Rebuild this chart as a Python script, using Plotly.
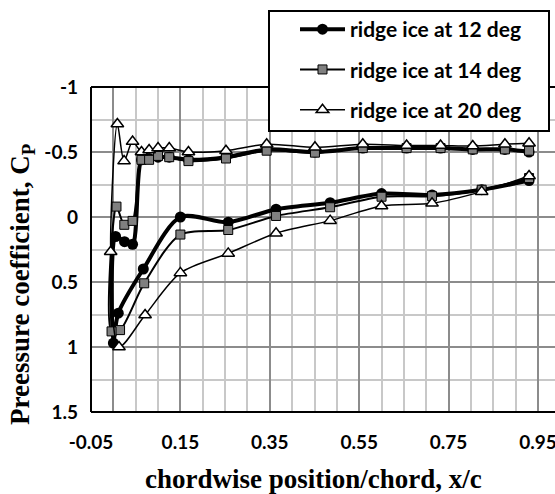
import plotly.graph_objects as go

# ---- data ----
x12 = [0.93, 0.824, 0.713, 0.60, 0.485, 0.364, 0.257, 0.15, 0.067, 0.011, 0.0,
       0.005, 0.025, 0.043, 0.063, 0.08, 0.10, 0.125, 0.168, 0.252, 0.343, 0.451,
       0.558, 0.656, 0.732, 0.804, 0.876, 0.93]
cp12 = [-0.28, -0.21, -0.17, -0.18, -0.11, -0.06, 0.04, 0.0, 0.40, 0.74, 0.97,
        0.15, 0.19, 0.21, -0.44, -0.45, -0.46, -0.46, -0.44, -0.46, -0.52, -0.50,
        -0.53, -0.53, -0.53, -0.52, -0.52, -0.50]

x14 = [0.93, 0.824, 0.713, 0.60, 0.485, 0.364, 0.257, 0.15, 0.069, 0.015, -0.004,
       0.007, 0.0245, 0.043, 0.063, 0.08, 0.10, 0.125, 0.168, 0.252, 0.343, 0.451,
       0.558, 0.656, 0.732, 0.804, 0.876, 0.93]
cp14 = [-0.30, -0.21, -0.16, -0.156, -0.075, -0.008, 0.10, 0.135, 0.51, 0.87, 0.88,
        -0.08, 0.06, 0.03, -0.44, -0.44, -0.47, -0.46, -0.43, -0.45, -0.51, -0.495,
        -0.53, -0.53, -0.53, -0.52, -0.52, -0.51]

x20 = [0.93, 0.824, 0.713, 0.60, 0.485, 0.364, 0.257, 0.15, 0.071, 0.0126, -0.006,
       0.009, 0.024, 0.043, 0.063, 0.08, 0.10, 0.125, 0.168, 0.252, 0.343, 0.451,
       0.558, 0.656, 0.732, 0.804, 0.876, 0.93]
cp20 = [-0.315, -0.195, -0.105, -0.085, 0.028, 0.125, 0.28, 0.43, 0.754, 1.0, 0.267,
        -0.715, -0.43, -0.58, -0.50, -0.515, -0.53, -0.53, -0.50, -0.51, -0.56, -0.536,
        -0.56, -0.55, -0.55, -0.546, -0.56, -0.567]

series_names = ["ridge ice at 12 deg", "ridge ice at 14 deg", "ridge ice at 20 deg"]

x_tick_vals = [-0.05, 0.15, 0.35, 0.55, 0.75, 0.95]
x_tick_text = ["-0.05", "0.15", "0.35", "0.55", "0.75", "0.95"]
y_tick_vals = [-1, -0.5, 0, 0.5, 1, 1.5]
y_tick_text = ["-1", "-0.5", "0", "0.5", "1", "1.5"]

x_title = "chordwise position/chord, x/c"
y_title = "Preessure coefficient, C<sub>P</sub>"

# ---- figure ----
W, H = 555, 494
ML, MR, MT, MB = 91, 0, 87, 82
PW, PH = W - ML - MR, H - MT - MB

def px_x(p):
    return (p - ML) / PW

def px_y(p):
    return (H - MB - p) / PH

MAJOR = "#8c8c8c"
MINOR = "#c8c8c8"
TICKFONT = dict(family="Lato", size=19, color="black", weight="bold")
TITLEFONT = dict(family="Liberation Serif", size=27, color="black", weight="bold")

fig = go.Figure()
fig.add_trace(go.Scatter(
    x=x12, y=cp12, mode="lines+markers", name=series_names[0], legendgroup="g1",
    line=dict(color="black", width=4, shape="spline", smoothing=0.8),
    marker=dict(symbol="circle", size=11, color="black")))
fig.add_trace(go.Scatter(
    x=x14, y=cp14, mode="lines+markers", name=series_names[1], legendgroup="g2",
    line=dict(color="black", width=2, shape="spline", smoothing=0.8),
    marker=dict(symbol="square", size=9, color="#808080", line=dict(color="black", width=1))))
fig.add_trace(go.Scatter(
    x=x20, y=cp20, mode="lines+markers", name=series_names[2], legendgroup="g3",
    line=dict(color="black", width=1.5, shape="spline", smoothing=0.8),
    marker=dict(symbol="triangle-up", size=11, color="white", line=dict(color="black", width=1.5))))

fig.update_layout(
    width=W, height=H,
    margin=dict(l=ML, r=MR, t=MT, b=MB, autoexpand=False),
    paper_bgcolor="white", plot_bgcolor="white",
    showlegend=True,
    legend=dict(x=px_x(295), y=px_y(9), xanchor="left", yanchor="top",
                bgcolor="rgba(0,0,0,0)", borderwidth=0, itemwidth=45,
                font=dict(family="Lato", size=21, color="black", weight="bold"),
                tracegroupgap=10, traceorder="grouped"),
    xaxis=dict(range=[-0.05, -0.05 + PW / 447.0], tickmode="array",
               tickvals=x_tick_vals, ticktext=x_tick_text,
               showgrid=True, gridcolor=MAJOR, gridwidth=2,
               minor=dict(tickmode="linear", tick0=-0.05, dtick=0.05, showgrid=True,
                          gridcolor=MINOR, gridwidth=1.5),
               zeroline=True, zerolinecolor=MAJOR, zerolinewidth=2,
               showline=False, ticks="", ticklabelstandoff=17,
               ticklabeloverflow="allow", tickfont=TICKFONT),
    yaxis=dict(range=[1.5, -1], tickmode="array",
               tickvals=y_tick_vals, ticktext=y_tick_text,
               showgrid=True, gridcolor=MAJOR, gridwidth=2,
               minor=dict(tickmode="linear", tick0=-1, dtick=0.25, showgrid=True,
                          gridcolor=MINOR, gridwidth=1.5),
               zeroline=True, zerolinecolor=MAJOR, zerolinewidth=2,
               showline=False, ticks="", ticklabelstandoff=12,
               ticklabeloverflow="allow", tickfont=TICKFONT),
    shapes=[
        # plot-area border (left, top, bottom)
        dict(type="line", xref="paper", yref="paper", x0=0, x1=0, y0=0, y1=1,
             line=dict(color="black", width=2), layer="above"),
        dict(type="line", xref="paper", yref="paper", x0=0, x1=1, y0=1, y1=1,
             line=dict(color="black", width=2), layer="above"),
        dict(type="line", xref="paper", yref="paper", x0=0, x1=1, y0=0, y1=0,
             line=dict(color="black", width=2), layer="above"),
        # legend box
        dict(type="rect", xref="paper", yref="paper",
             x0=px_x(269), x1=px_x(549), y0=px_y(131), y1=px_y(11),
             fillcolor="white", line=dict(color="black", width=2), layer="above"),
    ],
    annotations=[
        dict(text=x_title, xref="paper", yref="paper", x=px_x(313), y=px_y(479),
             xanchor="center", yanchor="middle", showarrow=False, font=TITLEFONT),
        dict(text=y_title, xref="paper", yref="paper", x=px_x(22), y=px_y(285),
             xanchor="center", yanchor="middle", showarrow=False, textangle=-90,
             font=TITLEFONT),
    ],
)

fig.write_html("out.html")
